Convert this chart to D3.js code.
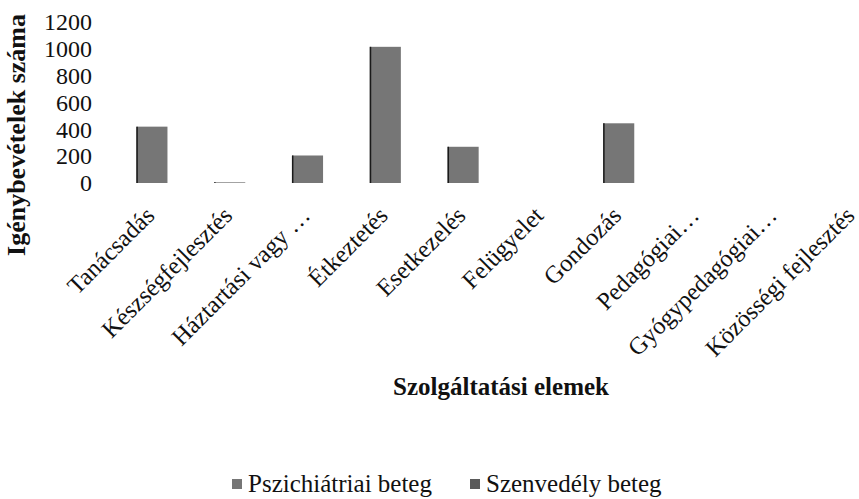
<!DOCTYPE html>
<html><head><meta charset="utf-8">
<script src="https://cdn.jsdelivr.net/npm/d3@7"></script>
<style>
html,body{margin:0;padding:0;background:#fff;}
svg text{font-family:"Liberation Serif","Times New Roman",Times,"DejaVu Serif",serif !important;}
</style></head>
<body>
<svg id="chart" width="859" height="499"></svg>
<script>
const categories = ["Tanácsadás","Készségfejlesztés","Háztartási vagy …","Étkeztetés","Esetkezelés","Felügyelet","Gondozás","Pedagógiai…","Gyógypedagógiai…","Közösségi fejlesztés"];
const pszichiatriai = [420, 5, 205, 1015, 270, 0, 445, 0, 0, 0];
const szenvedely = [0, 0, 0, 0, 0, 0, 0, 0, 0, 0];
const yTicks = [0, 200, 400, 600, 800, 1000, 1200];
const seriesNames = ["Pszichiátriai beteg", "Szenvedély beteg"];

const svg = d3.select("#chart");
const x = d3.scaleBand().domain(categories).range([113, 891]).paddingInner(0.6).paddingOuter(0.3);
const y = d3.scaleLinear().domain([0, 1200]).range([183, 22]);

// bars
const g = svg.append("g");
categories.forEach((c, i) => {
  const v1 = pszichiatriai[i], v2 = szenvedely[i];
  if (v1 > 0) {
    g.append("rect").attr("x", x(c)).attr("width", x.bandwidth())
      .attr("y", y(v1)).attr("height", y(0) - y(v1)).attr("fill", "#767676");
    g.append("line").attr("x1", x(c) + 0.75).attr("x2", x(c) + 0.75)
      .attr("y1", y(v1)).attr("y2", y(0)).attr("stroke", "#1a1a1a").attr("stroke-width", 1.5);
  }
  if (v2 > 0) {
    g.append("rect").attr("x", x(c)).attr("width", x.bandwidth())
      .attr("y", y(v1 + v2)).attr("height", y(v1) - y(v1 + v2)).attr("fill", "#5a5a5a");
  }
});

// y axis
const yAxis = d3.axisLeft(y).tickValues(yTicks).tickFormat(d3.format("d")).tickSize(0).tickPadding(0);
const ya = svg.append("g").attr("transform", "translate(92,0)").call(yAxis);
ya.attr("font-family", null);
ya.select(".domain").remove();
ya.selectAll("text").attr("font-size", 24).attr("fill", "#111");

// x axis labels
const xAxis = d3.axisBottom(x).tickSize(0).tickPadding(0);
const xa = svg.append("g").attr("transform", "translate(0,183)").call(xAxis);
xa.attr("font-family", null);
xa.select(".domain").remove();
xa.selectAll("text")
  .attr("font-size", 24.5).attr("fill", "#111")
  .attr("text-anchor", "end").attr("dy", 0).attr("y", 0)
  .attr("transform", "translate(4,34) rotate(-45)");

// axis titles
svg.append("text").attr("transform", "translate(25,135) rotate(-90)")
  .attr("text-anchor", "middle").attr("font-weight", "bold").attr("font-size", 26).attr("fill", "#111")
  .text("Igénybevételek száma");
svg.append("text").attr("x", 501).attr("y", 395)
  .attr("text-anchor", "middle").attr("font-weight", "bold").attr("font-size", 25).attr("fill", "#111")
  .text("Szolgáltatási elemek");

// legend
const legX = [232, 470];
const legColors = ["#767676", "#5a5a5a"];
seriesNames.forEach((n, i) => {
  svg.append("rect").attr("x", legX[i]).attr("y", 479).attr("width", 10).attr("height", 10).attr("fill", legColors[i]);
  svg.append("text").attr("x", legX[i] + 16).attr("y", 492).attr("font-size", 25).attr("fill", "#111").text(n);
});
</script>
</body></html>
